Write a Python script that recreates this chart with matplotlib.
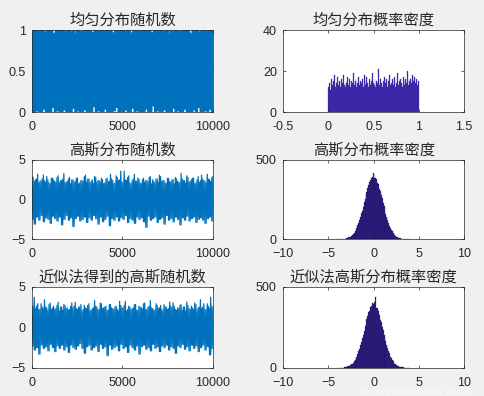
import numpy as np
import matplotlib
matplotlib.use('Agg')
import matplotlib.pyplot as plt

plt.rcParams['font.family'] = ['Liberation Sans', 'Noto Sans CJK SC', 'DejaVu Sans']

# ---- data ----
n_samples = 10000
titles = ['均匀分布随机数', '均匀分布概率密度',
          '高斯分布随机数', '高斯分布概率密度',
          '近似法得到的高斯随机数', '近似法高斯分布概率密度']

# envelope of the noisy time series (upper / lower extremes, left to right)
u_hi = [1.0, 0.99, 1.0, 0.98, 1.0, 1.0, 0.97, 1.0, 0.99, 1.0, 0.96, 1.0, 1.0, 0.99, 1.0, 0.98,
        1.0, 1.0, 0.99, 0.94, 1.0, 1.0, 0.98, 1.0, 0.99, 1.0, 1.0, 0.97, 1.0, 0.99, 1.0, 1.0,
        0.98, 1.0, 0.99, 1.0, 0.95, 1.0, 1.0, 0.99, 1.0, 0.98, 1.0, 1.0, 0.97, 1.0, 0.99, 1.0,
        1.0, 0.98, 1.0, 0.99, 1.0, 0.96, 1.0, 1.0, 0.99, 1.0, 0.98, 1.0, 1.0, 0.99, 0.97, 1.0,
        1.0, 0.98, 1.0, 0.99, 1.0, 1.0, 0.95, 1.0, 0.99, 1.0, 0.98, 1.0, 1.0, 0.99, 1.0, 1.0]
u_lo = [0.01, 0.0, 0.02, 0.0, 0.01, 0.04, 0.0, 0.01, 0.0, 0.06, 0.0, 0.02, 0.01, 0.0, 0.03, 0.0,
        0.01, 0.0, 0.05, 0.0, 0.02, 0.0, 0.01, 0.03, 0.0, 0.01, 0.0, 0.07, 0.0, 0.02, 0.01, 0.0,
        0.04, 0.0, 0.01, 0.0, 0.02, 0.06, 0.0, 0.01, 0.0, 0.03, 0.0, 0.01, 0.05, 0.0, 0.02, 0.0,
        0.01, 0.0, 0.04, 0.0, 0.01, 0.08, 0.0, 0.02, 0.0, 0.01, 0.03, 0.0, 0.01, 0.0, 0.05, 0.0,
        0.02, 0.0, 0.01, 0.04, 0.0, 0.01, 0.0, 0.03, 0.0, 0.06, 0.01, 0.0, 0.02, 0.0, 0.04, 0.01]

g_hi = [2.9, 2.3, 2.6, 2.1, 2.4, 3.1, 2.2, 2.5, 2.0, 2.7, 2.3, 2.8, 2.1, 2.4, 3.3, 2.2,
        2.6, 2.0, 2.5, 2.3, 2.7, 2.1, 2.4, 2.9, 2.2, 2.6, 2.3, 2.0, 2.8, 2.4, 2.2, 2.5,
        2.1, 2.7, 2.3, 2.6, 2.0, 3.0, 2.4, 3.6, 2.2, 2.5, 2.8, 2.1, 2.4, 3.2, 2.3, 2.6,
        2.0, 2.7, 2.4, 2.2, 2.9, 2.5, 2.1, 2.6, 3.1, 2.3, 2.4, 2.0, 2.7, 2.2, 2.5, 2.8,
        2.3, 2.1, 2.6, 2.4, 3.0, 2.2, 2.5, 2.7, 2.1, 2.9, 2.4, 2.6, 2.3, 3.2, 2.5, 2.8]
g_lo = [-2.5, -3.1, -2.2, -2.6, -2.0, -2.8, -2.3, -2.5, -3.0, -2.1, -2.4, -2.7, -2.2, -3.2, -2.5, -2.0,
        -2.6, -2.3, -3.4, -2.4, -2.1, -2.7, -2.5, -2.2, -2.9, -2.3, -2.6, -2.0, -2.4, -3.1, -2.2, -2.8,
        -2.5, -2.1, -3.3, -2.4, -2.6, -2.2, -2.7, -2.3, -2.5, -2.0, -2.9, -2.4, -2.6, -3.0, -2.2, -2.5,
        -2.3, -2.8, -3.5, -2.1, -2.6, -2.4, -2.2, -2.9, -2.5, -2.3, -3.1, -2.0, -2.6, -2.4, -2.8, -2.2,
        -2.5, -3.2, -2.3, -2.6, -2.1, -2.7, -2.4, -2.2, -2.9, -2.5, -2.3, -2.6, -3.0, -2.4, -2.2, -2.7]

a_hi = [2.4, 3.7, 2.6, 2.2, 2.9, 2.3, 2.5, 2.1, 3.0, 2.4, 2.2, 2.7, 2.0, 2.5, 2.8, 2.3,
        2.1, 2.6, 2.4, 3.1, 2.2, 2.5, 2.0, 2.7, 2.3, 2.9, 2.1, 2.4, 2.6, 2.2, 3.0, 2.3,
        2.5, 2.1, 2.8, 2.4, 2.2, 2.6, 2.0, 2.7, 2.4, 3.2, 2.2, 2.5, 2.3, 2.8, 2.1, 2.6,
        2.4, 2.9, 2.2, 2.5, 3.3, 2.3, 2.1, 2.7, 2.4, 2.2, 2.8, 2.5, 2.3, 2.6, 3.0, 2.2,
        2.4, 2.7, 2.1, 2.5, 3.1, 2.3, 2.6, 2.2, 2.8, 2.4, 3.4, 2.5, 2.2, 2.9, 2.3, 2.6]
a_lo = [-2.3, -2.8, -2.5, -3.3, -2.2, -2.6, -2.4, -2.9, -2.1, -2.5, -3.0, -2.3, -2.6, -2.2, -2.8, -2.4,
        -3.1, -2.2, -2.5, -2.7, -2.3, -2.0, -2.6, -3.2, -2.4, -2.2, -2.8, -2.5, -2.3, -3.0, -2.1, -2.6,
        -2.4, -3.5, -2.2, -2.7, -2.5, -2.3, -2.9, -2.1, -2.6, -2.4, -3.1, -2.2, -2.5, -2.8, -2.3, -3.3,
        -2.4, -2.2, -2.7, -2.5, -2.9, -2.1, -2.6, -2.4, -3.0, -2.3, -2.5, -2.2, -2.8, -2.4, -2.6, -3.2,
        -2.3, -2.5, -2.1, -2.7, -2.4, -2.9, -2.2, -2.6, -2.3, -3.0, -2.5, -2.2, -2.8, -2.4, -3.4, -2.6]

# histogram of the uniform numbers, 100 bins over [0, 1]
u_counts = [12, 14, 11, 16, 13, 15, 18, 12, 14, 13, 17, 13, 15, 12, 16, 14, 18, 13, 12, 15,
            14, 17, 13, 16, 12, 15, 14, 19, 13, 15, 16, 12, 14, 17, 13, 15, 14, 16, 12, 18,
            13, 15, 17, 14, 12, 16, 13, 15, 19, 14, 13, 16, 12, 15, 14, 21, 13, 16, 14, 12,
            15, 17, 13, 14, 16, 12, 15, 18, 13, 14, 16, 13, 15, 17, 12, 14, 19, 13, 15, 16,
            14, 12, 17, 15, 13, 16, 14, 20, 13, 15, 16, 14, 18, 13, 15, 17, 14, 16, 13, 15]

# histograms of the gaussian numbers, 80 bins over [-4, 4]
g_counts = [0, 1, 0, 1, 2, 1, 3, 2, 4, 5, 6, 8, 11, 12, 16, 20, 26, 33, 38, 50,
            61, 72, 88, 101, 122, 139, 163, 180, 206, 232, 251, 279, 298, 325, 340, 361, 372, 389, 395, 415,
            386, 408, 384, 378, 357, 346, 318, 303, 276, 258, 229, 210, 184, 160, 142, 118, 104, 86, 73, 58,
            49, 40, 31, 27, 19, 15, 13, 9, 7, 6, 4, 3, 2, 2, 1, 1, 0, 1, 0, 0]
a_counts = [0, 0, 1, 0, 1, 2, 2, 3, 3, 5, 7, 9, 10, 14, 17, 22, 25, 31, 41, 47,
            58, 70, 85, 104, 119, 141, 158, 183, 201, 229, 256, 272, 301, 318, 344, 352, 376, 381, 398, 392,
            405, 388, 437, 371, 366, 349, 324, 297, 281, 252, 233, 204, 188, 163, 139, 121, 102, 89, 70, 61,
            47, 41, 32, 25, 21, 16, 12, 10, 7, 5, 4, 3, 3, 1, 2, 0, 1, 0, 0, 0]

line_c = '#0072BD'
bar_c = '#3E26A8'
ink = '#262626'


def style(ax, xlim, xticks, ylim, yticks):
    ax.set_xlim(xlim)
    ax.set_ylim(ylim)
    ax.set_xticks(xticks)
    ax.set_yticks(yticks)
    ax.tick_params(direction='in', length=2.5, width=0.5, top=True, right=True,
                   labelsize=9, colors=ink)
    ax.tick_params(axis='x', pad=6.5)
    ax.tick_params(axis='y', pad=4.5)
    for s in ax.spines.values():
        s.set_linewidth(0.5)
        s.set_color(ink)


def noise(ax, hi, lo, lw=0.9):
    # dense trace: zigzag hi->lo, plus a lo->hi zigzag so the band fills in
    y1 = np.empty(2 * len(hi))
    y1[0::2] = hi
    y1[1::2] = lo
    y2 = np.empty(2 * len(hi))
    y2[0::2] = lo
    y2[1::2] = hi[::-1]
    x = np.linspace(1, n_samples, len(y1))
    ax.plot(x, y1, color=line_c, lw=lw)
    ax.plot(x, y2, color=line_c, lw=lw)


fig = plt.figure(figsize=(4.84, 3.96), dpi=100, facecolor='#f0f0f0')
lefts = [0.066, 0.585]
rows = [(0.717, 0.207), (0.396, 0.2), (0.071, 0.205)]
axs = [[fig.add_axes([l, b, 0.374, h]) for l in lefts] for b, h in rows]

noise(axs[0][0], u_hi, u_lo, lw=1.4)
style(axs[0][0], (0, n_samples), [0, 5000, 10000], (0, 1), [0, 0.5, 1])
axs[0][0].set_yticklabels(['0', '0.5', '1'])

noise(axs[1][0], g_hi, g_lo)
style(axs[1][0], (0, n_samples), [0, 5000, 10000], (-5, 5), [-5, 0, 5])

noise(axs[2][0], a_hi, a_lo)
style(axs[2][0], (0, n_samples), [0, 5000, 10000], (-5, 5), [-5, 0, 5])

u_centers = np.linspace(0.005, 0.995, len(u_counts))
axs[0][1].bar(u_centers, u_counts, width=0.01, color=bar_c, edgecolor=bar_c, lw=0.2)
style(axs[0][1], (-0.5, 1.5), [-0.5, 0, 0.5, 1, 1.5], (0, 40), [0, 20, 40])
axs[0][1].set_xticklabels(['-0.5', '0', '0.5', '1', '1.5'])

g_centers = np.linspace(-3.95, 3.95, len(g_counts))
for ax, counts in [(axs[1][1], g_counts), (axs[2][1], a_counts)]:
    ax.bar(g_centers, counts, width=0.1, color=bar_c, edgecolor='black', lw=0.15)
    style(ax, (-10, 10), [-10, -5, 0, 5, 10], (0, 500), [0, 500])

for ax, t in zip([a for r in axs for a in r], titles):
    ax.set_title(t, fontsize=11, color=ink, pad=4)

fig.text(0.985, 0.0, 'https://blog.csdn.net/weixin_44566643', ha='right', va='bottom',
         fontsize=5, color='white', alpha=0.7)

fig.savefig('out.png', dpi=100, facecolor=fig.get_facecolor())
